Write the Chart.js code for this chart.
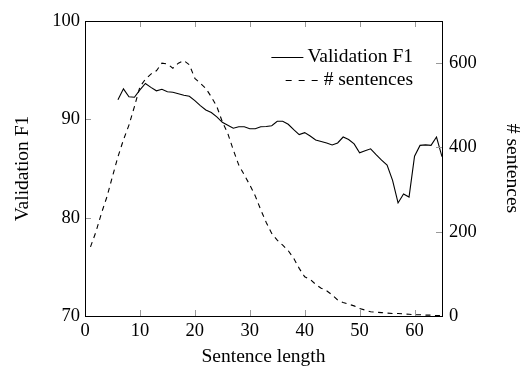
<!DOCTYPE html>
<html>
<head>
<meta charset="utf-8">
<script src="https://cdn.jsdelivr.net/npm/chart.js@4.4.0/dist/chart.umd.min.js"></script>
<style>
  body { margin: 0; background: #fff; }
  #wrap { width: 522px; height: 367px; }
</style>
</head>
<body>
<div id="wrap"><canvas id="myChart" width="522" height="367"></canvas></div>
<script>
// Sentence lengths for each series
const f1Lengths = [6, 7, 8, 9, 10, 11, 12, 13, 14, 15, 16, 17, 18, 19, 20, 21, 22, 23, 24, 25,
    26, 27, 28, 29, 30, 31, 32, 33, 34, 35, 36, 37, 38, 39, 40, 41, 42, 43, 44, 45,
    46, 47, 48, 49, 50, 51, 52, 53, 54, 55, 56, 57, 58, 59, 60, 61, 62, 63, 64, 65];
const f1Values = [92.0, 93.1, 92.3, 92.25, 93.0, 93.65, 93.25, 92.9, 93.05, 92.8,
    92.75, 92.6, 92.45, 92.35, 91.9, 91.4, 90.95, 90.7, 90.25, 89.7,
    89.4, 89.1, 89.25, 89.25, 89.05, 89.05, 89.25, 89.27, 89.35, 89.8,
    89.8, 89.5, 88.95, 88.45, 88.65, 88.3, 87.9, 87.75, 87.6, 87.4,
    87.6, 88.2, 87.95, 87.5, 86.6, 86.8, 87.0, 86.4, 85.85, 85.35,
    83.8, 81.5, 82.4, 82.1, 86.25, 87.35, 87.4, 87.35, 88.2, 86.2];

const sentLengths = [1, 2, 3, 4, 5, 6, 7, 8, 9, 10, 11, 12, 13, 14, 15, 16, 17, 18, 19, 20,
    21, 22, 23, 24, 25, 26, 27, 28, 29, 30, 31, 32, 33, 34, 35, 36, 37, 38, 39, 40,
    41, 42, 43, 44, 45, 46, 47, 48, 49, 50, 51, 52, 53, 54, 55, 56, 57, 58, 59, 60,
    61, 62, 63, 64, 65];
const sentCounts = [164, 200, 244, 283, 331, 378, 418, 453, 497, 544,
    562, 574, 582, 600, 598, 588, 600, 606, 596, 564,
    552, 540, 520, 497, 461, 433, 394, 358, 335, 311,
    285, 252, 222, 196, 180, 168, 155, 137, 113, 93,
    87, 75, 66, 60, 50, 38, 32, 28, 24, 18,
    14, 10, 9, 8, 7, 6, 6, 5, 4, 3,
    3, 2, 2, 1, 1];

// Tick labels
const xTicks = [0, 10, 20, 30, 40, 50, 60];
const f1Ticks = [70, 80, 90, 100];
const sentTicks = [0, 200, 400, 600];

const seriesLabels = ['Validation F1', '# sentences'];

const FONT = "'Liberation Serif', 'Times New Roman', serif";
const TICK_SIZE = 18.5;
const TEXT_SIZE = 19.5;
const DASH = [5, 4.5];

// Frame around the plot, ticks pointing inward, legend inside the plot
const framePlugin = {
    id: 'frame',
    afterDatasetsDraw(chart) {
        const ctx = chart.ctx;
        const a = chart.chartArea;
        const x = chart.scales.x, y = chart.scales.y, y1 = chart.scales.y1;
        const len = 6;
        ctx.save();
        ctx.lineWidth = 1;
        ctx.strokeStyle = '#999';
        ctx.beginPath();
        x.ticks.forEach(t => {
            const px = Math.round(x.getPixelForValue(t.value)) + 0.5;
            ctx.moveTo(px, a.bottom); ctx.lineTo(px, a.bottom - len);
            ctx.moveTo(px, a.top); ctx.lineTo(px, a.top + len);
        });
        y.ticks.forEach(t => {
            const py = Math.round(y.getPixelForValue(t.value)) + 0.5;
            ctx.moveTo(a.left, py); ctx.lineTo(a.left + len, py);
        });
        y1.ticks.forEach(t => {
            const py = Math.round(y1.getPixelForValue(t.value)) + 0.5;
            ctx.moveTo(a.right, py); ctx.lineTo(a.right - len, py);
        });
        ctx.stroke();

        ctx.strokeStyle = '#000';
        ctx.strokeRect(Math.round(a.left) + 0.5, Math.round(a.top) + 0.5,
            Math.round(a.right - a.left), Math.round(a.bottom - a.top));

        // Legend
        ctx.font = TEXT_SIZE + 'px ' + FONT;
        ctx.fillStyle = '#000';
        ctx.textAlign = 'right';
        ctx.textBaseline = 'middle';
        const right = a.right - 29;
        const rows = [a.top + 36, a.top + 59];
        chart.data.datasets.forEach((ds, i) => {
            const w = ctx.measureText(ds.label).width;
            ctx.fillText(ds.label, right, rows[i]);
            const end = right - w - (ds.borderDash ? 6 : 4);
            ctx.beginPath();
            ctx.setLineDash(ds.borderDash ? [6, 7] : []);
            ctx.moveTo(end - 32, Math.round(rows[i]) + 0.5);
            ctx.lineTo(end, Math.round(rows[i]) + 0.5);
            ctx.stroke();
        });
        ctx.restore();
    }
};

let ctx = document.getElementById('myChart').getContext('2d');
let myChart = new Chart(ctx, {
    type: 'line',
    data: {
        datasets: [{
            label: seriesLabels[0],
            data: f1Lengths.map((v, i) => ({ x: v, y: f1Values[i] })),
            yAxisID: 'y',
            borderColor: '#000',
            borderWidth: 1.1,
            pointRadius: 0,
            tension: 0
        }, {
            label: seriesLabels[1],
            data: sentLengths.map((v, i) => ({ x: v, y: sentCounts[i] })),
            yAxisID: 'y1',
            borderColor: '#000',
            borderWidth: 1.1,
            borderDash: DASH,
            pointRadius: 0,
            tension: 0
        }]
    },
    options: {
        responsive: false,
        animation: false,
        layout: { padding: { top: 21, left: 0, right: 0, bottom: 0 } },
        plugins: {
            legend: { display: false },
            tooltip: { enabled: false }
        },
        scales: {
            x: {
                type: 'linear',
                min: 0,
                max: 65,
                afterBuildTicks: s => { s.ticks = xTicks.map(v => ({ value: v })); },
                afterFit: s => { s.height = 51; },
                grid: { display: false, drawTicks: false },
                border: { display: false },
                ticks: { color: '#000', padding: 4, maxRotation: 0, font: { family: FONT, size: TICK_SIZE } },
                title: {
                    display: true, text: 'Sentence length', color: '#000',
                    padding: { top: 0, bottom: 0 },
                    font: { family: FONT, size: TEXT_SIZE, lineHeight: 1 }
                }
            },
            y: {
                type: 'linear',
                position: 'left',
                min: 70,
                max: 100,
                afterBuildTicks: s => { s.ticks = f1Ticks.map(v => ({ value: v })); },
                afterFit: s => { s.width = 85; },
                grid: { display: false, drawTicks: false },
                border: { display: false },
                ticks: { color: '#000', padding: 5, font: { family: FONT, size: TICK_SIZE } },
                title: {
                    display: true, text: 'Validation F1', color: '#000',
                    padding: { top: 13, bottom: 0 },
                    font: { family: FONT, size: TEXT_SIZE, lineHeight: 1 }
                }
            },
            y1: {
                type: 'linear',
                position: 'right',
                min: 0,
                max: 700,
                afterBuildTicks: s => { s.ticks = sentTicks.map(v => ({ value: v })); },
                afterFit: s => { s.width = 80; },
                grid: { display: false, drawTicks: false },
                border: { display: false },
                ticks: { color: '#000', padding: 7, font: { family: FONT, size: TICK_SIZE } },
                title: {
                    display: true, text: '# sentences', color: '#000',
                    padding: { top: 0, bottom: 0 },
                    font: { family: FONT, size: TEXT_SIZE, lineHeight: 1 }
                }
            }
        }
    },
    plugins: [framePlugin]
});

if (typeof Chart === 'undefined') {
    console.error('Chart.js is not loaded.');
}
</script>
</body>
</html>
